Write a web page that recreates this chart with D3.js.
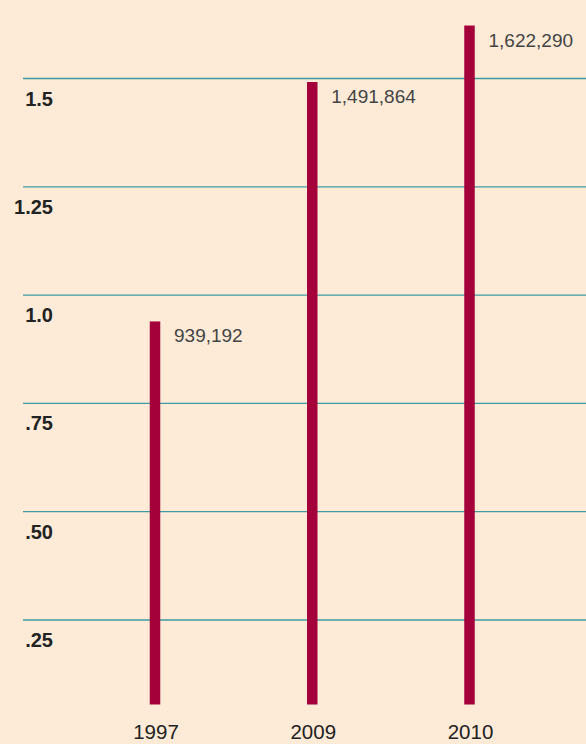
<!DOCTYPE html>
<html>
<head>
<meta charset="utf-8">
<script src="https://cdn.jsdelivr.net/npm/d3@7"></script>
<style>
html,body{margin:0;padding:0;background:#fdebd8;}
svg{display:block;}
</style>
</head>
<body>
<svg id="chart" width="586" height="744"></svg>
<script>
const years = ["1997", "2009", "2010"];
const values = [939192, 1491864, 1622290];
const tickValues = [250000, 500000, 750000, 1000000, 1250000, 1500000];
const tickLabels = [".25", ".50", ".75", "1.0", "1.25", "1.5"];

const W = 586, H = 744;
const plotBottom = 704.5;
const svg = d3.select("#chart");
svg.append("rect").attr("width", W).attr("height", H).attr("fill", "#fdebd8");

const y = d3.scaleLinear().domain([0, 1500000]).range([728.3, 78.5]);
const x = d3.scalePoint().domain(years).range([155, 469.5]);

// gridlines
const grid = svg.append("g");
grid.selectAll("line").data(tickValues).join("line")
  .attr("x1", 23).attr("x2", W)
  .attr("y1", d => y(d)).attr("y2", d => y(d))
  .attr("stroke", "#3f9ba2").attr("stroke-width", 1.3);

// tick labels
svg.append("g").selectAll("text").data(tickValues).join("text")
  .attr("x", 53).attr("y", d => y(d) + 27)
  .attr("text-anchor", "end")
  .attr("font-family", "Liberation Sans, Arial, sans-serif")
  .attr("font-weight", "bold").attr("font-size", 20)
  .attr("fill", "#222")
  .text((d, i) => tickLabels[i]);

// bars
const barW = 10.5;
svg.append("g").selectAll("rect").data(values).join("rect")
  .attr("x", (d, i) => x(years[i]) - barW / 2)
  .attr("y", d => y(d))
  .attr("width", barW)
  .attr("height", d => plotBottom - y(d))
  .attr("fill", "#a4003a");

// value labels
const fmt = d3.format(",");
svg.append("g").selectAll("text").data(values).join("text")
  .attr("x", (d, i) => x(years[i]) + 19)
  .attr("y", d => y(d) + 21)
  .attr("font-family", "Liberation Sans, Arial, sans-serif")
  .attr("font-size", 19)
  .attr("fill", "#444")
  .text(d => fmt(d));

// x labels
svg.append("g").selectAll("text").data(years).join("text")
  .attr("x", d => x(d) + 1)
  .attr("y", 738.5)
  .attr("text-anchor", "middle")
  .attr("font-family", "Liberation Sans, Arial, sans-serif")
  .attr("font-size", 20.5)
  .attr("fill", "#222")
  .text(d => d);
</script>
</body>
</html>
